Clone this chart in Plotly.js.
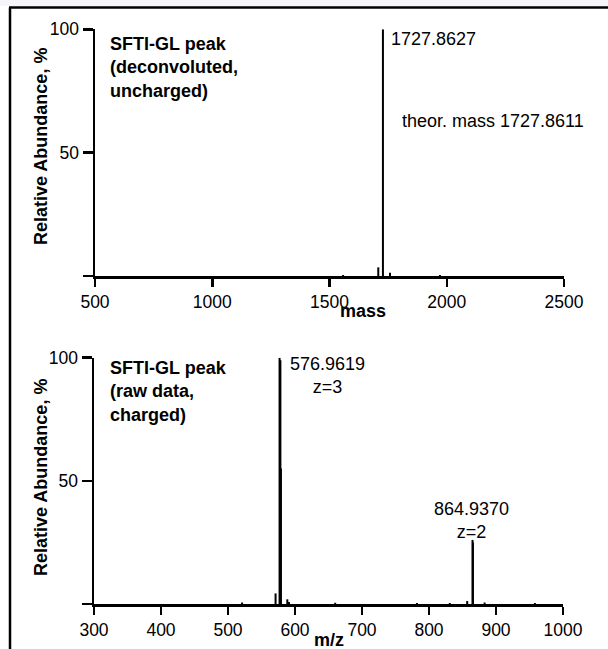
<!DOCTYPE html>
<html>
<head>
<meta charset="utf-8">
<script src="https://cdn.plot.ly/plotly-3.0.1.min.js"></script>
<style>
  html, body { margin: 0; padding: 0; background: #ffffff; }
  #chart { width: 608px; height: 649px; }
</style>
</head>
<body>
<div id="chart"></div>
<script>
// Deconvoluted (uncharged) spectrum: mass vs relative abundance (%)
const massPeaks      = [1558, 1708, 1727.8627, 1758, 1971];
const massIntensity  = [0.4, 3.5, 100, 1.3, 0.4];
const massTicks      = [500, 1000, 1500, 2000, 2500];

// Raw (charged) spectrum: m/z vs relative abundance (%)
const mzPeaks        = [521, 571, 576.9619, 578.2, 579, 588.5, 591, 660, 782, 831, 857, 864.9370, 865.6, 883, 958];
const mzIntensity    = [0.6, 4.3, 100, 99, 55, 1.9, 0.8, 0.5, 0.4, 0.4, 1.2, 26, 25, 0.6, 0.4];
const mzTicks        = [300, 400, 500, 600, 700, 800, 900, 1000];

const abundanceTicks = [0, 50, 100];
const abundanceLabels = ['', '50', '100'];

// Turn peak lists into separate vertical sticks (baseline -> apex, then a gap)
function sticks(xs, ys) {
  const px = [], py = [];
  xs.forEach((x, i) => { px.push(x, x, null); py.push(0, ys[i], null); });
  return { px, py };
}

const massSticks = sticks(massPeaks, massIntensity);
const mzSticks = sticks(mzPeaks, mzIntensity);

const W = 608, H = 649;
const fx = p => p / W;
const fy = p => 1 - p / H;

const font = { family: 'Liberation Sans, Arial, sans-serif', color: '#000000' };

const axisCommon = {
  showline: true, linecolor: '#000000', linewidth: 2.5,
  ticks: 'outside', ticklen: 10, tickwidth: 2.5, tickcolor: '#000000',
  showgrid: false, zeroline: false, mirror: false,
  tickfont: Object.assign({ size: 17.5 }, font),
  fixedrange: true
};

const traces = [
  { x: massSticks.px, y: massSticks.py, xaxis: 'x', yaxis: 'y', type: 'scatter', mode: 'lines',
    connectgaps: false, line: { color: '#000000', width: 2 }, hoverinfo: 'skip', cliponaxis: false },
  { x: mzSticks.px, y: mzSticks.py, xaxis: 'x2', yaxis: 'y2', type: 'scatter', mode: 'lines',
    connectgaps: false, line: { color: '#000000', width: 2 }, hoverinfo: 'skip', cliponaxis: false }
];

const layout = {
  width: W, height: H,
  margin: { l: 0, r: 0, t: 0, b: 0 },
  paper_bgcolor: '#ffffff', plot_bgcolor: 'rgba(0,0,0,0)',
  showlegend: false,
  font: font,
  xaxis: Object.assign({}, axisCommon, {
    domain: [fx(95), fx(564)], range: [500, 2500], anchor: 'y',
    tickmode: 'array', tickvals: massTicks, ticktext: massTicks.map(String), ticklen: 8
  }),
  yaxis: Object.assign({}, axisCommon, {
    domain: [fy(276), fy(29.3)], range: [0, 100], anchor: 'x',
    tickmode: 'array', tickvals: abundanceTicks, ticktext: abundanceLabels
  }),
  xaxis2: Object.assign({}, axisCommon, {
    domain: [fx(94), fx(563)], range: [300, 1000], anchor: 'y2',
    tickmode: 'array', tickvals: mzTicks, ticktext: mzTicks.map(String), ticklen: 8
  }),
  yaxis2: Object.assign({}, axisCommon, {
    domain: [fy(604), fy(357.7)], range: [0, 100], anchor: 'x2',
    tickmode: 'array', tickvals: abundanceTicks, ticktext: abundanceLabels
  }),
  shapes: [
    { type: 'rect', xref: 'paper', yref: 'paper', x0: 0, x1: 1, y0: fy(6), y1: 1,
      line: { width: 0 }, fillcolor: '#f6f6fa' },
    { type: 'line', xref: 'paper', yref: 'paper', x0: fx(9), x1: 1, y0: fy(7.5), y1: fy(7.5),
      line: { color: '#000000', width: 2.5 } },
    { type: 'line', xref: 'paper', yref: 'paper', x0: fx(10), x1: fx(10), y0: 0, y1: fy(7.5),
      line: { color: '#000000', width: 2.5 } }
  ],
  annotations: [
    // panel captions
    { xref: 'paper', yref: 'paper', x: fx(108), y: fy(32), xanchor: 'left', yanchor: 'top',
      align: 'left', showarrow: false,
      text: '<b>SFTI-GL peak<br>(deconvoluted,<br>uncharged)</b>',
      font: Object.assign({ size: 18 }, font) },
    { xref: 'paper', yref: 'paper', x: fx(108), y: fy(356), xanchor: 'left', yanchor: 'top',
      align: 'left', showarrow: false,
      text: '<b>SFTI-GL peak<br>(raw data,<br>charged)</b>',
      font: Object.assign({ size: 18 }, font) },
    // peak labels
    { xref: 'x', yref: 'paper', x: massPeaks[2], y: fy(39.3), xanchor: 'left', yanchor: 'middle',
      xshift: 6, showarrow: false, text: '1727.8627', font: Object.assign({ size: 18 }, font) },
    { xref: 'paper', yref: 'paper', x: fx(400), y: fy(120.7), xanchor: 'left', yanchor: 'middle',
      showarrow: false, text: 'theor. mass 1727.8611', font: Object.assign({ size: 18 }, font) },
    { xref: 'paper', yref: 'paper', x: fx(327), y: fy(352), xanchor: 'center', yanchor: 'top',
      showarrow: false, text: '576.9619<br>z=3', font: Object.assign({ size: 18 }, font) },
    { xref: 'paper', yref: 'paper', x: fx(471), y: fy(497), xanchor: 'center', yanchor: 'top',
      showarrow: false, text: '864.9370<br>z=2', font: Object.assign({ size: 18 }, font) },
    // axis titles
    { xref: 'paper', yref: 'paper', x: fx(363), y: fy(311), xanchor: 'center', yanchor: 'middle',
      showarrow: false, text: '<b>mass</b>', font: Object.assign({ size: 18 }, font) },
    { xref: 'paper', yref: 'paper', x: fx(329), y: fy(640), xanchor: 'center', yanchor: 'middle',
      showarrow: false, text: '<b>m/z</b>', font: Object.assign({ size: 18 }, font) },
    { xref: 'paper', yref: 'paper', x: fx(41), y: fy(147), xanchor: 'center', yanchor: 'middle',
      textangle: -90, showarrow: false, text: '<b>Relative Abundance, %</b>',
      font: Object.assign({ size: 18 }, font) },
    { xref: 'paper', yref: 'paper', x: fx(41), y: fy(478), xanchor: 'center', yanchor: 'middle',
      textangle: -90, showarrow: false, text: '<b>Relative Abundance, %</b>',
      font: Object.assign({ size: 18 }, font) }
  ]
};

Plotly.newPlot('chart', traces, layout, { staticPlot: true, displayModeBar: false });
</script>
</body>
</html>
